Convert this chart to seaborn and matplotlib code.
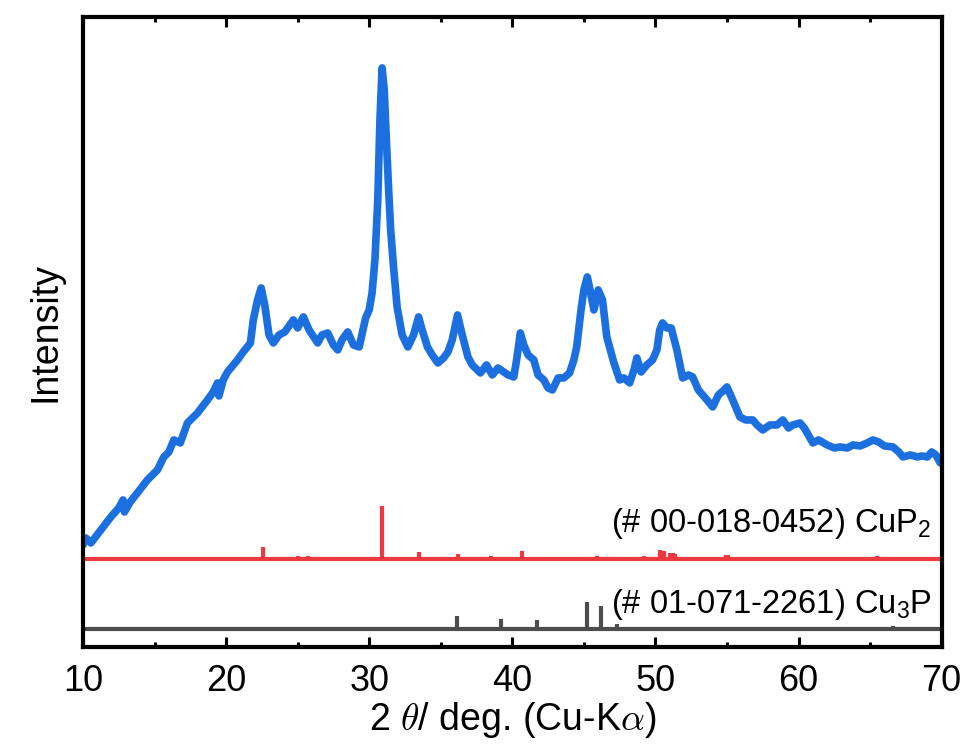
import matplotlib
matplotlib.use("Agg")
import matplotlib.pyplot as plt
import seaborn as sns
import pandas as pd
import numpy as np

# measured pattern (2theta in deg, intensity in arb. units)
two_theta = [10.0, 10.2, 10.55, 11.25, 11.95, 12.5, 12.8, 12.9, 13.3, 13.8,
             14.5, 15.2, 15.65, 16.0, 16.35, 16.8, 17.3, 18.0, 18.7, 19.1,
             19.4, 19.5, 19.8, 20.1, 20.8, 21.2, 21.7, 21.9, 22.2, 22.45,
             22.7, 23.0, 23.3, 23.7, 24.1, 24.7, 25.0, 25.4, 25.8, 26.4,
             26.7, 27.1, 27.5, 27.8, 28.1, 28.5, 28.9, 29.3, 29.75, 30.0,
             30.2, 30.4, 30.6, 30.75, 30.9, 31.05, 31.2, 31.35, 31.5, 31.7,
             31.95, 32.3, 32.7, 33.1, 33.45, 33.7, 34.07, 34.4, 34.8, 35.2,
             35.5, 35.8, 36.17, 36.5, 36.9, 37.2, 37.77, 38.2, 38.6, 39.0,
             39.4, 39.7, 40.1, 40.3, 40.56, 40.8, 41.1, 41.5, 41.8, 42.2,
             42.5, 42.8, 43.2, 43.6, 44.0, 44.3, 44.5, 44.8, 45.0, 45.24,
             45.5, 45.7, 46.0, 46.3, 46.6, 47.1, 47.5, 47.8, 48.2, 48.5,
             48.7, 49.0, 49.4, 49.8, 50.1, 50.3, 50.5, 50.8, 51.1, 51.5,
             51.9, 52.3, 52.6, 53.0, 53.3, 53.6, 54.0, 54.4, 54.8, 55.0,
             55.4, 55.9, 56.3, 56.8, 57.1, 57.5, 58.0, 58.5, 58.9, 59.3,
             59.6, 60.1, 60.4, 61.0, 61.4, 62.0, 62.5, 62.9, 63.4, 63.8,
             64.3, 64.8, 65.2, 65.6, 66.0, 66.6, 67.0, 67.3, 67.8, 68.3,
             68.6, 69.0, 69.3, 69.6, 69.9, 70.0]
intensity = [102, 109, 104, 117, 130, 139, 147, 135, 145, 154,
             167, 177, 190, 195, 207, 204, 224, 234, 247, 255,
             264, 251, 267, 275, 287, 295, 304, 327, 347, 359,
             342, 312, 304, 312, 315, 327, 319, 330, 317, 304,
             312, 314, 302, 297, 307, 315, 302, 300, 329, 337,
             354, 387, 447, 527, 579, 557, 507, 460, 417, 380,
             340, 312, 300, 312, 330, 317, 300, 292, 284, 289,
             295, 307, 332, 312, 290, 282, 274, 282, 272, 279,
             275, 272, 270, 287, 314, 302, 292, 287, 272, 267,
             259, 257, 269, 269, 274, 287, 300, 337, 357, 370,
             352, 337, 357, 347, 310, 284, 267, 269, 264, 277,
             289, 275, 282, 287, 297, 317, 324, 319, 319, 297,
             269, 272, 270, 257, 252, 247, 240, 252, 257, 260,
             247, 230, 227, 227, 222, 217, 222, 222, 227, 219,
             222, 224, 219, 204, 207, 202, 199, 200, 199, 202,
             201, 204, 207, 205, 201, 200, 195, 190, 192, 190,
             191, 190, 195, 192, 184, 185]

# reference stick patterns
cup2_pos = [16.6, 22.55, 25.0, 25.7, 30.9, 31.8, 33.5, 36.2, 37.5, 38.5,
            39.7, 40.7, 41.1, 44.9, 45.3, 45.9, 47.4, 48.5, 49.2, 50.3,
            50.6, 51.0, 51.2, 51.4, 52.3, 52.8, 54.2, 54.9, 55.1, 56.3,
            58.0, 59.1, 60.2, 61.5, 61.8, 63.5, 65.5]
cup2_int = [2, 12, 3, 3, 53, 2, 7, 5, 2, 3,
            2, 8, 2, 2, 2, 3, 2, 2, 3, 9,
            8, 6, 6, 5, 2, 2, 1, 4, 4, 2,
            2, 2, 2, 1, 1, 2, 3]
cu3p_pos = [14.9, 25.0, 25.7, 28.6, 29.2, 36.15, 39.2, 39.55, 41.7, 45.2,
            46.2, 47.3, 52.3, 53.5, 55.2, 56.5, 57.8, 59.1, 61.7, 66.6,
            67.4, 68.4, 69.2]
cu3p_int = [1, 1, 1, 2, 1, 13, 10, 1, 9, 27,
            23, 5, 1, 2, 1, 1, 1, 2, 1, 3,
            1, 1, 1]
cup2_base = 88
cu3p_base = 18

sns.set_theme(style="ticks")
plt.rcParams['font.family'] = ['Liberation Sans', 'DejaVu Sans']
plt.rcParams['mathtext.fontset'] = 'custom'
plt.rcParams['mathtext.rm'] = 'Liberation Sans'
plt.rcParams['mathtext.it'] = 'Liberation Sans:italic'
plt.rcParams['text.color'] = 'black'
plt.rcParams['axes.labelcolor'] = 'black'
plt.rcParams['xtick.color'] = 'black'
plt.rcParams['xtick.labelcolor'] = 'black'

fig = plt.figure(figsize=(9.67, 7.51), dpi=100)
ax = fig.add_axes([0.0858, 0.1385, 0.888, 0.839])

df = pd.DataFrame({"two_theta": two_theta, "intensity": intensity})
sns.lineplot(data=df, x="two_theta", y="intensity", ax=ax, color="#1B6FDE",
             linewidth=5.5, estimator=None, sort=False,
             solid_joinstyle="round", solid_capstyle="round")

# CuP2 reference
ax.plot([10, 70], [cup2_base, cup2_base], color="#EE3A3F", lw=3, solid_capstyle="butt")
ax.vlines(cup2_pos, cup2_base, np.array(cup2_int) + cup2_base, color="#EE3A3F", lw=3)
# Cu3P reference
ax.plot([10, 70], [cu3p_base, cu3p_base], color="#4D4D4D", lw=3, solid_capstyle="butt")
ax.vlines(cu3p_pos, cu3p_base, np.array(cu3p_int) + cu3p_base, color="#4D4D4D", lw=3)

ax.text(69.3, 115, "(# 00-018-0452) CuP$_2$", ha="right", va="baseline", fontsize=23.5)
ax.text(69.3, 34, "(# 01-071-2261) Cu$_3$P", ha="right", va="baseline", fontsize=23.5)

ax.set_xlim(10, 70)
ax.set_ylim(0, 630)
ax.set_xticks(range(10, 71, 10))
ax.set_xticks(range(15, 70, 10), minor=True)
ax.set_yticks([])
ax.tick_params(axis="x", which="both", direction="in", top=True, bottom=True,
               labelsize=26, width=2.2, pad=12)
ax.tick_params(axis="x", which="major", length=7)
ax.tick_params(axis="x", which="minor", length=3.5)
for s in ax.spines.values():
    s.set_linewidth(3)
    s.set_color("black")

ax.set_xlabel(r"2 $\theta$/ deg. (Cu-K$\alpha$)", fontsize=27, labelpad=1,
              math_fontfamily="cm")
ax.set_ylabel("Intensity", fontsize=27, labelpad=14)

fig.savefig("out.png", dpi=100)
